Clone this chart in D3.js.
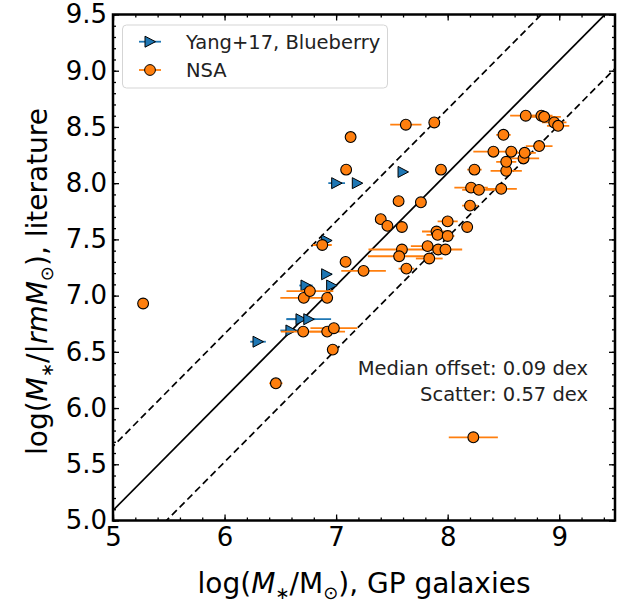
<!DOCTYPE html>
<html>
<head>
<meta charset="utf-8">
<script src="https://cdn.jsdelivr.net/npm/d3@7"></script>
<style>
  body { margin: 0; background: white; }
  text { font-family: "DejaVu Sans", sans-serif; }
</style>
</head>
<body>
<div id="chart"></div>
<script>
// DATA
const yangX    = [6.30, 6.595, 6.685, 6.755, 6.73, 6.96, 6.915, 6.915, 7.005, 7.19, 7.60]
const yangY    = [6.59, 6.69, 6.79, 6.79, 7.09, 7.09, 7.19, 7.49, 8.00, 8.00, 8.10]
const yangXerr = [0.07, 0.095, 0.13, 0.20, 0.06, 0, 0.05, 0, 0.075, 0, 0]

const nsaX = [5.27, 6.46, 6.705, 6.92, 6.98, 6.97, 6.71, 6.92, 6.765, 6.876,
              7.085, 7.246, 7.13, 7.09, 7.40, 7.46, 7.56, 7.76, 7.625, 7.88,
              7.94, 7.59, 7.90, 7.91, 8.00, 8.00, 8.175, 8.20, 8.21, 8.28,
              8.48, 8.24, 8.525, 8.525, 8.68, 8.69, 8.41, 8.57, 8.50, 8.82,
              8.70, 8.84, 8.865, 8.955, 8.99, 7.59, 7.565, 7.82, 7.915, 7.98,
              7.835, 7.63, 8.23]
const nsaY = [6.93, 6.22, 6.68, 6.68, 6.71, 6.52, 6.98, 6.98, 7.04, 7.45,
              7.30, 7.22, 8.41, 8.12, 7.68, 7.62, 7.84, 7.83, 8.52, 8.54,
              8.12, 7.61, 7.57, 7.54, 7.53, 7.66, 7.61, 7.80, 7.96, 7.94,
              7.95, 8.12, 8.11, 8.19, 8.22, 8.27, 8.28, 8.28, 8.43, 8.33,
              8.60, 8.60, 8.59, 8.54, 8.51, 7.41, 7.35, 7.44, 7.41, 7.41,
              7.33, 7.24, 5.74]
const nsaXerr = [0, 0.06, 0.2, 0.16, 0.21, 0, 0.21, 0.05, 0.21, 0.085,
                 0.03, 0.20, 0, 0, 0, 0, 0, 0, 0.14, 0,
                 0, 0, 0.13, 0.1, 0.06, 0.09, 0.05, 0.07, 0.15, 0.15,
                 0.14, 0.065, 0.14, 0.09, 0.14, 0.1, 0.18, 0.06, 0.065, 0.12,
                 0.14, 0.1, 0.15, 0.11, 0.1, 0.30, 0.28, 0.15, 0.12, 0.15,
                 0.12, 0.07, 0.22]

const medianOffset = 0.09
const scatter = 0.57

const xTicks = [5, 6, 7, 8, 9]
const yTicks = [5.0, 5.5, 6.0, 6.5, 7.0, 7.5, 8.0, 8.5, 9.0, 9.5]

const width = 626
const height = 604
const margin = {left: 113, right: 615, top: 14.5, bottom: 520.5}

const svg = d3.select("#chart")
  .append("svg")
    .attr("width", width)
    .attr("height", height)

const xScale = d3.scaleLinear().domain([5, 9.5]).range([margin.left, margin.right])
const yScale = d3.scaleLinear().domain([5, 9.5]).range([margin.bottom, margin.top])

const xMinor = d3.range(5, 9.51, 0.2)
const yMinor = d3.range(5, 9.51, 0.1)

// AXES (ticks inward on all four sides)
function tickStyle(g) {
  g.select(".domain").remove()
  g.selectAll(".tick line").attr("stroke", "black").attr("stroke-width", 1.3)
}

svg.append("g")
  .attr("transform", `translate(0,${margin.bottom})`)
  .call(d3.axisBottom(xScale).tickValues(xMinor).tickSize(-3).tickFormat(""))
  .call(tickStyle)
svg.append("g")
  .attr("transform", `translate(0,${margin.top})`)
  .call(d3.axisTop(xScale).tickValues(xMinor).tickSize(-3).tickFormat(""))
  .call(tickStyle)
svg.append("g")
  .attr("transform", `translate(${margin.left},0)`)
  .call(d3.axisLeft(yScale).tickValues(yMinor).tickSize(-3).tickFormat(""))
  .call(tickStyle)
svg.append("g")
  .attr("transform", `translate(${margin.right},0)`)
  .call(d3.axisRight(yScale).tickValues(yMinor).tickSize(-3).tickFormat(""))
  .call(tickStyle)

svg.append("g")
  .attr("transform", `translate(0,${margin.bottom})`)
  .call(d3.axisBottom(xScale).tickValues(xTicks).tickSize(-6).tickPadding(7).tickFormat(d3.format("d")))
  .call(tickStyle)
  .selectAll("text").attr("font-size", 26).attr("fill", "black")
svg.append("g")
  .attr("transform", `translate(0,${margin.top})`)
  .call(d3.axisTop(xScale).tickValues(xTicks).tickSize(-6).tickFormat(""))
  .call(tickStyle)
svg.append("g")
  .attr("transform", `translate(${margin.left},0)`)
  .call(d3.axisLeft(yScale).tickValues(yTicks).tickSize(-6).tickPadding(6).tickFormat(d3.format(".1f")))
  .call(tickStyle)
  .selectAll("text").attr("font-size", 26).attr("fill", "black")
svg.append("g")
  .attr("transform", `translate(${margin.right},0)`)
  .call(d3.axisRight(yScale).tickValues(yTicks).tickSize(-6).tickFormat(""))
  .call(tickStyle)

// CLIP
svg.append("clipPath").attr("id", "clip")
  .append("rect")
    .attr("x", margin.left).attr("y", margin.top)
    .attr("width", margin.right - margin.left).attr("height", margin.bottom - margin.top)

const plot = svg.append("g").attr("clip-path", "url(#clip)")

// ONE-TO-ONE LINES
const lines = [
  {off: medianOffset, dash: null},
  {off: medianOffset + scatter, dash: "7,4"},
  {off: medianOffset - scatter, dash: "7,4"}
]
plot.selectAll("line.rel")
  .data(lines)
  .join("line")
    .attr("class", "rel")
    .attr("x1", xScale(4))
    .attr("x2", xScale(10))
    .attr("y1", d => yScale(4 + d.off))
    .attr("y2", d => yScale(10 + d.off))
    .attr("stroke", "black")
    .attr("stroke-width", 1.7)
    .attr("stroke-dasharray", d => d.dash)

const blue = "#1f77b4"
const orange = "#ff7f0e"

const yangData = yangX.map((d, i) => ({x: d, y: yangY[i], e: yangXerr[i]}))
const nsaData = nsaX.map((d, i) => ({x: d, y: nsaY[i], e: nsaXerr[i]}))

const tri = "M5.5,0L-5,-5.5L-5,5.5Z"

// YANG+17 BLUEBERRY
plot.append("g")
  .selectAll("line")
  .data(yangData.filter(d => d.e > 0))
  .join("line")
    .attr("x1", d => xScale(d.x - d.e))
    .attr("x2", d => xScale(d.x + d.e))
    .attr("y1", d => yScale(d.y))
    .attr("y2", d => yScale(d.y))
    .attr("stroke", blue)
    .attr("stroke-width", 1.8)
plot.append("g")
  .selectAll("path")
  .data(yangData)
  .join("path")
    .attr("d", tri)
    .attr("transform", d => `translate(${xScale(d.x)},${yScale(d.y)})`)
    .attr("fill", blue)
    .attr("stroke", "black")
    .attr("stroke-width", 1)

// NSA
plot.append("g")
  .selectAll("line")
  .data(nsaData.filter(d => d.e > 0))
  .join("line")
    .attr("x1", d => xScale(d.x - d.e))
    .attr("x2", d => xScale(d.x + d.e))
    .attr("y1", d => yScale(d.y))
    .attr("y2", d => yScale(d.y))
    .attr("stroke", orange)
    .attr("stroke-width", 1.8)
plot.append("g")
  .selectAll("circle")
  .data(nsaData)
  .join("circle")
    .attr("cx", d => xScale(d.x))
    .attr("cy", d => yScale(d.y))
    .attr("r", 5.4)
    .attr("fill", orange)
    .attr("stroke", "black")
    .attr("stroke-width", 1.1)

// FRAME
svg.append("rect")
  .attr("x", margin.left).attr("y", margin.top)
  .attr("width", margin.right - margin.left).attr("height", margin.bottom - margin.top)
  .attr("fill", "none")
  .attr("stroke", "black")
  .attr("stroke-width", 2.5)

// ANNOTATION
const note = svg.append("g").attr("font-size", 19.5).attr("fill", "#222").attr("text-anchor", "end")
note.append("text").attr("x", 588).attr("y", 375).text(`Median offset: ${medianOffset.toFixed(2)} dex`)
note.append("text").attr("x", 588).attr("y", 401).text(`Scatter: ${scatter.toFixed(2)} dex`)

// LEGEND
const legend = svg.append("g")
legend.append("rect")
  .attr("x", 122.5).attr("y", 25)
  .attr("width", 265).attr("height", 63)
  .attr("rx", 4)
  .attr("fill", "white").attr("fill-opacity", 0.8)
  .attr("stroke", "#d5d5d5").attr("stroke-width", 1)

const legendData = [
  {label: "Yang+17, Blueberry", color: blue, shape: "tri", y: 41.7},
  {label: "NSA", color: orange, shape: "circle", y: 70}
]
legendData.forEach(d => {
  legend.append("line")
    .attr("x1", 139).attr("x2", 161)
    .attr("y1", d.y).attr("y2", d.y)
    .attr("stroke", d.color).attr("stroke-width", 1.8)
  if (d.shape === "tri") {
    legend.append("path").attr("d", tri)
      .attr("transform", `translate(150,${d.y})`)
      .attr("fill", d.color).attr("stroke", "black")
  } else {
    legend.append("circle").attr("cx", 150).attr("cy", d.y).attr("r", 5.4)
      .attr("fill", d.color).attr("stroke", "black")
  }
  legend.append("text")
    .attr("x", 186).attr("y", d.y + 7)
    .attr("font-size", 19.5).attr("fill", "#222")
    .text(d.label)
})

// AXIS LABELS
const xLab = svg.append("text")
  .attr("x", (margin.left + margin.right) / 2).attr("y", 593)
  .attr("text-anchor", "middle")
  .attr("font-size", 28).attr("fill", "black")
xLab.append("tspan").text("log(")
xLab.append("tspan").attr("font-style", "italic").text("M")
xLab.append("tspan").attr("font-size", 17).attr("dy", 6).text("∗")
xLab.append("tspan").attr("dy", -6).text("/M")
xLab.append("tspan").attr("font-size", 18).attr("dy", 6).text("⊙")
xLab.append("tspan").attr("dy", -6).text("), GP galaxies")

const yLab = svg.append("text")
  .attr("transform", `translate(47,${(margin.top + margin.bottom) / 2 + 14}) rotate(-90)`)
  .attr("text-anchor", "middle")
  .attr("font-size", 28).attr("fill", "black")
yLab.append("tspan").text("log(")
yLab.append("tspan").attr("font-style", "italic").text("M")
yLab.append("tspan").attr("font-size", 17).attr("dy", 6).text("∗")
yLab.append("tspan").attr("dy", -6).text("/|")
yLab.append("tspan").attr("font-style", "italic").text("rmM")
yLab.append("tspan").attr("font-size", 18).attr("dy", 6).text("⊙")
yLab.append("tspan").attr("dy", -6).text("), literature")
</script>
</body>
</html>
